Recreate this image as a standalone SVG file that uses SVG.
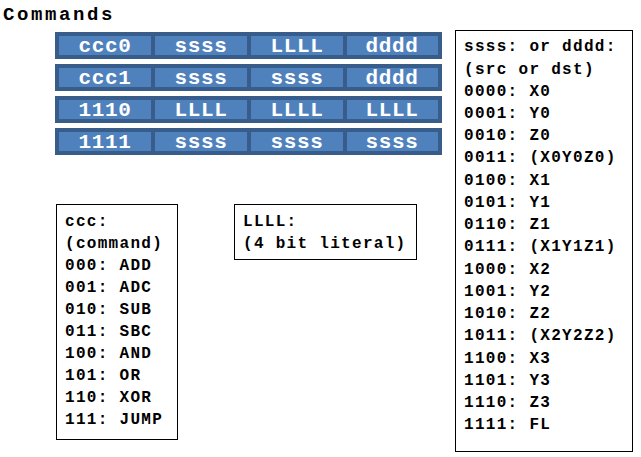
<svg xmlns="http://www.w3.org/2000/svg" width="641" height="457" viewBox="0 0 641 457">
<style>
text{font-family:"Liberation Mono","Courier New",monospace;font-weight:bold}
.c{fill:#4f81bd;stroke:#385d8a;stroke-width:2}
.o{fill:#385d8a}
.ct{fill:#fff;font-size:21px;letter-spacing:0.6px;text-anchor:middle}
.b{fill:#fff;stroke:#000;stroke-width:1}
.t{font-size:16px;letter-spacing:1.3px;fill:#000}
</style>
<rect width="641" height="457" fill="#fff"/>
<text x="3" y="20" style="font-size:19px;letter-spacing:2.6px">Commands</text>
<g id="row1"><rect class="o" x="55" y="32" width="387" height="27"/>
<rect class="c" x="58" y="35" width="94" height="21"/><rect class="c" x="154" y="35" width="94" height="21"/><rect class="c" x="250" y="35" width="94" height="21"/><rect class="c" x="346" y="35" width="93" height="21"/>
<text class="ct" x="105" y="52">ccc0</text><text class="ct" x="201" y="52">ssss</text><text class="ct" x="297" y="52">LLLL</text><text class="ct" x="392" y="52">dddd</text></g>
<g id="row2"><rect class="o" x="55" y="64" width="387" height="27"/>
<rect class="c" x="58" y="67" width="94" height="21"/><rect class="c" x="154" y="67" width="94" height="21"/><rect class="c" x="250" y="67" width="94" height="21"/><rect class="c" x="346" y="67" width="93" height="21"/>
<text class="ct" x="105" y="84">ccc1</text><text class="ct" x="201" y="84">ssss</text><text class="ct" x="297" y="84">ssss</text><text class="ct" x="392" y="84">dddd</text></g>
<g id="row3"><rect class="o" x="55" y="96" width="387" height="27"/>
<rect class="c" x="58" y="99" width="94" height="21"/><rect class="c" x="154" y="99" width="94" height="21"/><rect class="c" x="250" y="99" width="94" height="21"/><rect class="c" x="346" y="99" width="93" height="21"/>
<text class="ct" x="105" y="116">1110</text><text class="ct" x="201" y="116">LLLL</text><text class="ct" x="297" y="116">LLLL</text><text class="ct" x="392" y="116">LLLL</text></g>
<g id="row4"><rect class="o" x="55" y="128" width="387" height="27"/>
<rect class="c" x="58" y="131" width="94" height="21"/><rect class="c" x="154" y="131" width="94" height="21"/><rect class="c" x="250" y="131" width="94" height="21"/><rect class="c" x="346" y="131" width="93" height="21"/>
<text class="ct" x="105" y="148">1111</text><text class="ct" x="201" y="148">ssss</text><text class="ct" x="297" y="148">ssss</text><text class="ct" x="392" y="148">ssss</text></g>
<g id="ccc"><rect class="b" x="56.5" y="204.5" width="121" height="235"/>
<text class="t" x="65" y="226">ccc:</text><text class="t" x="65" y="248">(command)</text><text class="t" x="65" y="270">000: ADD</text><text class="t" x="65" y="292">001: ADC</text><text class="t" x="65" y="314">010: SUB</text><text class="t" x="65" y="336">011: SBC</text><text class="t" x="65" y="358">100: AND</text><text class="t" x="65" y="380">101: OR</text><text class="t" x="65" y="402">110: XOR</text><text class="t" x="65" y="424">111: JUMP</text></g>
<g id="llll"><rect class="b" x="234.5" y="204.5" width="182" height="55"/>
<text class="t" x="243" y="226">LLLL:</text><text class="t" x="243" y="248">(4 bit literal)</text></g>
<g id="src"><rect class="b" x="455.5" y="30.5" width="177" height="421"/>
<text class="t" x="464" y="51">ssss: or dddd:</text><text class="t" x="464" y="74">(src or dst)</text>
<text class="t" x="464" y="96">0000: X0</text><text class="t" x="464" y="118">0001: Y0</text><text class="t" x="464" y="140">0010: Z0</text><text class="t" x="464" y="162">0011: (X0Y0Z0)</text>
<text class="t" x="464" y="185">0100: X1</text><text class="t" x="464" y="207">0101: Y1</text><text class="t" x="464" y="229">0110: Z1</text><text class="t" x="464" y="251">0111: (X1Y1Z1)</text>
<text class="t" x="464" y="274">1000: X2</text><text class="t" x="464" y="296">1001: Y2</text><text class="t" x="464" y="318">1010: Z2</text><text class="t" x="464" y="340">1011: (X2Y2Z2)</text>
<text class="t" x="464" y="363">1100: X3</text><text class="t" x="464" y="385">1101: Y3</text><text class="t" x="464" y="407">1110: Z3</text><text class="t" x="464" y="429">1111: FL</text></g>
</svg>
